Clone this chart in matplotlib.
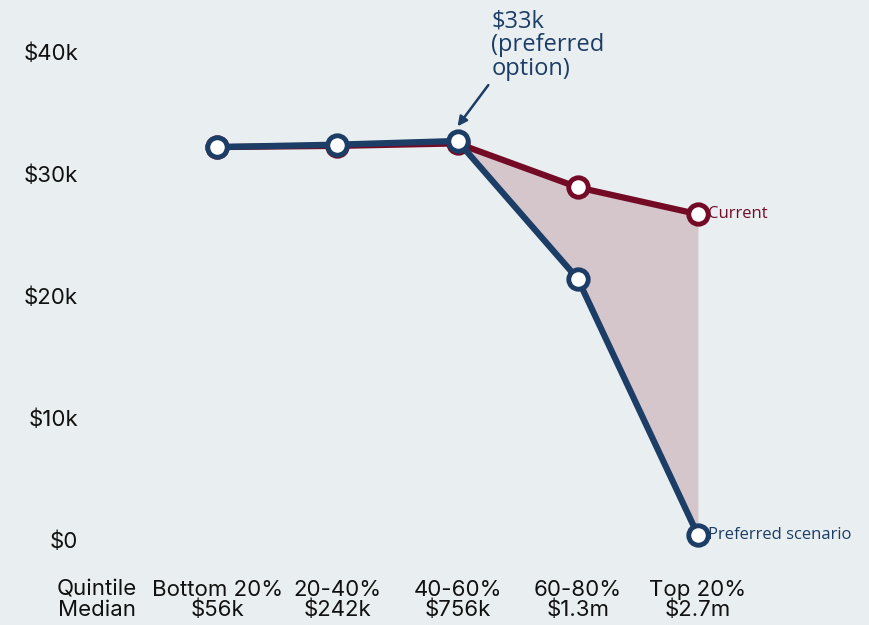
import numpy as np
import matplotlib.pyplot as plt

# data
quintiles = ['Bottom 20%', '20-40%', '40-60%', '60-80%', 'Top 20%']
medians = ['$56k', '$242k', '$756k', '$1.3m', '$2.7m']
current = [32.2, 32.3, 32.5, 28.9, 26.7]      # $k
preferred = [32.2, 32.4, 32.7, 21.4, 0.4]     # $k
yticks = [0, 10, 20, 30, 40]
ytick_labels = ['$0', '$10k', '$20k', '$30k', '$40k']

bg = '#e9eff0'
navy = '#1c3d66'
maroon = '#740b26'
shade = '#d5c6cc'

fig = plt.figure(figsize=(8.7, 6.25), dpi=100, facecolor=bg)
ax = fig.add_axes([0.0977, 0.097, 0.7736, 0.859])
ax.set_facecolor(bg)

x = np.arange(1, len(quintiles) + 1)
cur = np.array(current)
pref = np.array(preferred)

# shaded gap from the middle quintile onward
m = x >= 3
ax.fill_between(x[m], pref[m], cur[m], color=shade, lw=0, zorder=1)

ax.plot(x, cur, color=maroon, lw=4.5, marker='o', ms=14, mfc='white',
        mec=maroon, mew=3.5, zorder=3, solid_capstyle='round')
ax.plot(x, pref, color=navy, lw=4.5, marker='o', ms=14, mfc='white',
        mec=navy, mew=3.5, zorder=4, solid_capstyle='round')

ax.text(x[-1] + 0.08, cur[-1], 'Current', color=maroon, fontsize=12,
        family='Open Sans', va='center', ha='left', clip_on=False)
ax.text(x[-1] + 0.08, pref[-1], 'Preferred scenario', color=navy, fontsize=12,
        family='Open Sans', va='center', ha='left', clip_on=False)

ax.annotate('$33k\n(preferred\noption)', xy=(x[2], pref[2] + 1.2),
            xytext=(x[2] + 0.28, 43.5), textcoords='data',
            color=navy, fontsize=17, family='Open Sans', ha='left', va='top',
            linespacing=1.0, annotation_clip=False,
            arrowprops=dict(arrowstyle='-|>', color=navy, lw=1.8, relpos=(0, 0),
                            shrinkA=1, shrinkB=0, mutation_scale=14))

ax.set_xlim(-0.1, 5.5)
ax.set_ylim(-2, 42)
ax.set_yticks(yticks)
ax.set_yticklabels(ytick_labels)
ax.set_xticks(np.arange(0, len(quintiles) + 1))
ax.set_xticklabels(['Quintile\nMedian'] + [q + '\n' + md for q, md in zip(quintiles, medians)],
                   linespacing=1.02)

for lab in ax.get_xticklabels() + ax.get_yticklabels():
    lab.set_family('Inter')
    lab.set_fontsize(16)
    lab.set_color('#111111')
ax.tick_params(axis='both', length=0)
ax.tick_params(axis='y', pad=5)
ax.tick_params(axis='x', pad=11)
for s in ax.spines.values():
    s.set_visible(False)

fig.savefig('out.png', facecolor=bg)
